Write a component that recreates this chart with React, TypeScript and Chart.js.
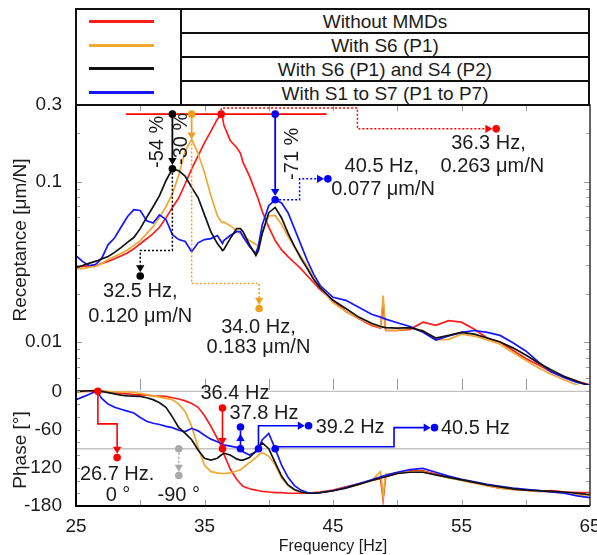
import { useEffect, useRef } from 'react';
import { Chart, registerables } from 'chart.js';

Chart.register(...registerables);

// ---- measurement data -------------------------------------------------------
const FREQ = [
  25, 25.5, 26, 26.5, 26.7, 27, 27.5, 28, 28.5, 29,
  29.5, 30, 30.5, 31, 31.5, 32, 32.5, 33, 33.5, 34,
  34.5, 35, 35.5, 36, 36.3, 36.4, 36.5, 37, 37.5, 37.8,
  38, 38.5, 39, 39.2, 39.5, 40, 40.5, 41, 41.5, 42,
  42.5, 43, 43.5, 44, 45, 46, 47, 48, 48.7, 48.9,
  49.1, 50, 51, 52, 53, 54, 55, 56, 57, 58,
  59, 60, 61, 62, 63, 64, 65,
];

// receptance [µm/N]
const REC_WITHOUT = [
  0.0292, 0.0296, 0.0298, 0.03, 0.0302, 0.0309, 0.0318, 0.033, 0.0344, 0.0359,
  0.0381, 0.041, 0.044, 0.0474, 0.0519, 0.0594, 0.0688, 0.0792, 0.0969, 0.1201,
  0.1446, 0.174, 0.206, 0.245, 0.263, 0.252, 0.226, 0.18, 0.163, 0.15,
  0.1315, 0.108, 0.085, 0.077, 0.065, 0.052, 0.0429, 0.0375, 0.0341, 0.0312,
  0.0287, 0.0259, 0.0234, 0.0212, 0.0182, 0.0155, 0.014, 0.0127, 0.0122, 0.0175,
  0.0118, 0.0118, 0.012, 0.0133, 0.0127, 0.0136, 0.0133, 0.012, 0.0106, 0.01,
  0.0089, 0.0079, 0.0072, 0.0065, 0.0061, 0.0057, 0.0054,
];
const REC_S6 = [
  0.0287, 0.0287, 0.0292, 0.0296, 0.03, 0.0309, 0.0327, 0.0341, 0.0356, 0.0375,
  0.04, 0.0429, 0.0474, 0.0524, 0.0598, 0.0697, 0.0838, 0.11, 0.1553, 0.183,
  0.15, 0.114, 0.0817, 0.0613, 0.0562, 0.0554, 0.056, 0.0531, 0.0495, 0.0474,
  0.0461, 0.0429, 0.0405, 0.0398, 0.048, 0.061, 0.0615, 0.054, 0.0455, 0.0394,
  0.0341, 0.0296, 0.0249, 0.0218, 0.0176, 0.0155, 0.0141, 0.0129, 0.0123, 0.0195,
  0.0118, 0.0118, 0.0122, 0.0118, 0.0103, 0.0104, 0.0112, 0.0109, 0.0103, 0.0097,
  0.0086, 0.0077, 0.0069, 0.0063, 0.0058, 0.0054, 0.0051,
];
const REC_S6_S4 = [
  0.0292, 0.03, 0.0309, 0.0318, 0.0322, 0.033, 0.0341, 0.0362, 0.0388, 0.0418,
  0.0448, 0.0509, 0.0598, 0.0697, 0.0817, 0.1012, 0.12, 0.1167, 0.108, 0.092,
  0.0795, 0.062, 0.0485, 0.0411, 0.0383, 0.0372, 0.0377, 0.0441, 0.0509, 0.0509,
  0.0487, 0.0405, 0.0346, 0.0372, 0.0477, 0.064, 0.069, 0.0593, 0.0477, 0.0394,
  0.0332, 0.0287, 0.0245, 0.0218, 0.0182, 0.0162, 0.0143, 0.0131, 0.0125, 0.0124,
  0.0123, 0.0122, 0.0123, 0.0117, 0.0106, 0.011, 0.0115, 0.0112, 0.0106, 0.01,
  0.0092, 0.0083, 0.0074, 0.0067, 0.0061, 0.0057, 0.0053,
];
const REC_S1_S7 = [
  0.0346, 0.0318, 0.03, 0.0304, 0.0314, 0.0332, 0.0405, 0.0445, 0.0519, 0.0604,
  0.0669, 0.066, 0.057, 0.0552, 0.062, 0.058, 0.0467, 0.0435, 0.0423, 0.0365,
  0.0415, 0.0435, 0.0441, 0.0461, 0.0423, 0.0411, 0.0429, 0.0461, 0.0487, 0.0487,
  0.0453, 0.0394, 0.0356, 0.04, 0.0538, 0.0708, 0.077, 0.0735, 0.064, 0.0509,
  0.0405, 0.0322, 0.0264, 0.0225, 0.019, 0.0182, 0.0165, 0.0149, 0.0143, 0.0141,
  0.0139, 0.0132, 0.0125, 0.0115, 0.0103, 0.0109, 0.0115, 0.0118, 0.0115, 0.011,
  0.0099, 0.0088, 0.0075, 0.0065, 0.006, 0.0056, 0.0054,
];

// phase [°]
const PH_WITHOUT = [
  0, 0, 0, 1, 0, 0, -1, -2, -3, -4,
  -5, -5.5, -6, -7, -7.5, -8, -10, -12, -15, -19,
  -25, -38, -55, -74, -85, -90, -98, -122, -138, -145,
  -149, -153, -155, -156, -157, -158, -159, -159, -160, -160,
  -160, -160, -159, -158, -155, -150, -145, -140, -137, -170,
  -134, -129, -125, -125, -130, -135, -139, -143, -148, -152,
  -154, -155, -157, -156, -158, -159, -159,
];
const PH_S6 = [
  -2, 0, 1, 2, 2, 1, 0, -1, -1, -1,
  -2, -3, -5, -7, -9, -11, -13, -20, -32, -55,
  -88, -116, -126, -128, -129, -129, -129, -128, -125, -123,
  -120, -112, -104, -100, -96, -102, -115, -136, -148, -155,
  -158, -160, -160, -159, -156, -151, -146, -140, -126, -166,
  -130, -128, -126, -126, -131, -136, -140, -144, -148, -152,
  -154, -155, -157, -158, -160, -162, -163,
];
const PH_S6_S4 = [
  0, 0.5, 1, 1, 1, 0, -2, -4, -6, -7,
  -7.5, -8, -10, -13, -18, -25, -40, -57, -66, -76,
  -92, -105, -108, -105, -100, -99, -97, -100, -106, -108,
  -108, -104, -94, -89, -81, -90, -112, -133, -147, -154,
  -158, -160, -160, -159, -156, -152, -146, -140, -136, -135,
  -134, -129, -127, -127, -131, -135, -139, -143, -147, -150,
  -153, -155, -156, -157, -158, -160, -162,
];
const PH_S1_S7 = [
  -13, -9, -5, 0, -2, -11, -20, -25, -28, -31,
  -34, -41, -47, -50, -52, -55, -57, -61, -63, -58,
  -62, -69, -75, -79, -82, -83, -84, -86, -88, -90,
  -95, -100, -95, -90, -76, -66, -90, -116, -135, -148,
  -155, -159, -160, -159, -156, -151, -145, -139, -134, -133,
  -132, -127, -123, -121, -127, -133, -138, -142, -146, -149,
  -152, -154, -156, -158, -160, -164, -167,
];

// axes
const X_RANGE = [25, 65];
const X_TICKS = [25, 35, 45, 55, 65];
const REC_RANGE = [0.0054, 0.3];
const REC_TICKS = [0.3, 0.1, 0.01];
const PH_RANGE = [-180, 10];
const PH_TICKS = [0, -60, -120, -180];
const PH_GUIDES = [0, -90];

// resonance peaks (frequency [Hz], receptance [µm/N])
const PEAK_WITHOUT = { f: 36.3, v: 0.263 };
const PEAK_S6 = { f: 34.0, v: 0.183 };
const PEAK_S6_S4 = { f: 32.5, v: 0.12 };
const PEAK_S1_S7 = { f: 40.5, v: 0.077 };

// characteristic phase points (frequency [Hz], phase [°])
const PH_ZERO_WITHOUT = { f: 26.7, p: 0 };
const PH_90_WITHOUT = { f: 36.4, p: -90 };
const PH_90_S1_S7 = [
  { f: 37.8, p: -90 },
  { f: 39.2, p: -90 },
  { f: 40.5, p: -90 },
];

// ---- styling ---------------------------------------------------------------
const FONT = '"Liberation Sans", Arial, Helvetica, sans-serif';
const INK = '#1c1c1c';
const RED = '#ff1c1c';
const ORANGE = '#f0a832';
const BLACK = '#121212';
const BLUE = '#1616ff';
const GRAY = '#a9a9a9';
const DOT_R = 3.8;

const SERIES = [
  { label: 'Without MMDs', color: RED, rec: REC_WITHOUT, ph: PH_WITHOUT, order: 3 },
  { label: 'With S6 (P1)', color: ORANGE, rec: REC_S6, ph: PH_S6, order: 2 },
  { label: 'With S6 (P1) and S4 (P2)', color: BLACK, rec: REC_S6_S4, ph: PH_S6_S4, order: 0 },
  { label: 'With S1 to S7 (P1 to P7)', color: BLUE, rec: REC_S1_S7, ph: PH_S1_S7, order: 1 },
];

type Pt = [number, number];

function dot(ctx: CanvasRenderingContext2D, p: Pt, color: string) {
  ctx.save();
  ctx.fillStyle = color;
  ctx.beginPath();
  ctx.arc(p[0], p[1], DOT_R, 0, Math.PI * 2);
  ctx.fill();
  ctx.restore();
}

function head(ctx: CanvasRenderingContext2D, x: number, y: number, ux: number, uy: number, color: string) {
  const L = 7;
  const W = 4.2;
  const bx = x - ux * L;
  const by = y - uy * L;
  ctx.save();
  ctx.fillStyle = color;
  ctx.beginPath();
  ctx.moveTo(x, y);
  ctx.lineTo(bx - uy * W, by + ux * W);
  ctx.lineTo(bx + uy * W, by - ux * W);
  ctx.closePath();
  ctx.fill();
  ctx.restore();
}

function leader(
  ctx: CanvasRenderingContext2D,
  pts: Pt[],
  color: string,
  o: { dash?: boolean; startDot?: boolean; endDot?: boolean; arrow?: boolean; width?: number }
) {
  const n = pts.length;
  const [ex, ey] = pts[n - 1];
  const [qx, qy] = pts[n - 2];
  const len = Math.hypot(ex - qx, ey - qy) || 1;
  const ux = (ex - qx) / len;
  const uy = (ey - qy) / len;
  const gap = o.endDot ? DOT_R : 0;
  const tx = ex - ux * gap;
  const ty = ey - uy * gap;
  const back = o.arrow ? 6 : 0;
  ctx.save();
  ctx.strokeStyle = color;
  ctx.lineWidth = o.width ?? (o.dash ? 1.5 : 1.8);
  ctx.setLineDash(o.dash ? [2, 2] : []);
  ctx.beginPath();
  ctx.moveTo(pts[0][0], pts[0][1]);
  for (let i = 1; i < n - 1; i++) ctx.lineTo(pts[i][0], pts[i][1]);
  ctx.lineTo(tx - ux * back, ty - uy * back);
  ctx.stroke();
  ctx.restore();
  if (o.arrow) head(ctx, tx, ty, ux, uy, color);
  if (o.startDot) dot(ctx, pts[0], color);
  if (o.endDot) dot(ctx, pts[n - 1], color);
}

function text(
  ctx: CanvasRenderingContext2D,
  s: string,
  x: number,
  y: number,
  o: { align?: CanvasTextAlign; rotate?: number; size?: number } = {}
) {
  ctx.save();
  ctx.font = `${o.size ?? 20}px ${FONT}`;
  ctx.fillStyle = INK;
  ctx.textAlign = o.align ?? 'center';
  ctx.textBaseline = 'middle';
  ctx.translate(x, y);
  if (o.rotate) ctx.rotate(o.rotate);
  ctx.fillText(s, 0, 0);
  ctx.restore();
}

const hz = (f: number) => `${f.toFixed(1)} Hz`;
const rec = (v: number) => `${v.toFixed(3)} μm/N`;
const pct = (v: number) => `${Math.round((v / PEAK_WITHOUT.v - 1) * 100)} %`;

const overlay = {
  id: 'overlay',
  beforeDatasetsDraw(chart: any) {
    const { ctx, chartArea: a, scales } = chart;
    ctx.save();
    ctx.strokeStyle = '#c3c3c3';
    ctx.lineWidth = 1.4;
    for (const g of PH_GUIDES) {
      const y = scales.p.getPixelForValue(g);
      ctx.beginPath();
      ctx.moveTo(a.left, y);
      ctx.lineTo(a.right, y);
      ctx.stroke();
    }
    ctx.restore();
  },
  afterDatasetsDraw(chart: any) {
    const { ctx, chartArea: a, scales } = chart;
    const xs = scales.x;
    const ym = scales.y;
    const yp = scales.p;
    const M = (f: number, v: number): Pt => [xs.getPixelForValue(f), ym.getPixelForValue(v)];
    const P = (f: number, p: number): Pt => [xs.getPixelForValue(f), yp.getPixelForValue(p)];

    // inward tick marks
    ctx.save();
    ctx.strokeStyle = '#9a9a9a';
    ctx.lineWidth = 1;
    const seg = (x1: number, y1: number, x2: number, y2: number) => {
      ctx.beginPath();
      ctx.moveTo(x1, y1);
      ctx.lineTo(x2, y2);
      ctx.stroke();
    };
    for (let f = X_RANGE[0] + 5; f < X_RANGE[1]; f += 5) {
      const x = Math.round(xs.getPixelForValue(f)) + 0.5;
      seg(x, a.top, x, a.top + 6);
      seg(x, ym.bottom - 6, x, ym.bottom + 5);
      seg(x, a.bottom - 6, x, a.bottom);
    }
    for (let e = -3; e <= -1; e++) {
      for (let k = 1; k <= 9; k++) {
        const v = k * Math.pow(10, e);
        if (v <= ym.min || v >= ym.max) continue;
        const y = Math.round(ym.getPixelForValue(v)) + 0.5;
        const L = k === 1 ? 6 : 4;
        seg(a.left, y, a.left + L, y);
        seg(a.right - L, y, a.right, y);
      }
    }
    for (let ph = -160; ph <= 0; ph += 20) {
      const y = Math.round(yp.getPixelForValue(ph)) + 0.5;
      seg(a.left, y, a.left + 4, y);
      seg(a.right - 4, y, a.right, y);
    }
    ctx.restore();

    // frame
    ctx.save();
    ctx.strokeStyle = '#000';
    ctx.lineWidth = 2;
    ctx.beginPath();
    ctx.moveTo(a.left, a.top);
    ctx.lineTo(a.left, a.bottom);
    ctx.lineTo(a.right, a.bottom);
    ctx.stroke();
    ctx.strokeStyle = '#333';
    ctx.lineWidth = 1.5;
    ctx.beginPath();
    ctx.moveTo(a.left, a.top);
    ctx.lineTo(a.right, a.top);
    ctx.lineTo(a.right, a.bottom);
    ctx.stroke();
    ctx.restore();

    // ---- receptance panel ----
    const ref = PEAK_WITHOUT.v;
    ctx.save();
    ctx.strokeStyle = '#ff0000';
    ctx.lineWidth = 1.8;
    const r0 = M(28.9, ref);
    const r1 = M(44.5, ref);
    ctx.beginPath();
    ctx.moveTo(r0[0], r0[1]);
    ctx.lineTo(r1[0], r1[1]);
    ctx.stroke();
    ctx.restore();

    // dotted call-outs from each peak
    leader(ctx, [M(PEAK_WITHOUT.f, ref), M(PEAK_WITHOUT.f, 0.287), M(46.9, 0.287), M(46.9, 0.213), M(57.7, 0.213)], '#ff0000', { dash: true, endDot: true, arrow: true });
    leader(ctx, [M(PEAK_S6_S4.f, PEAK_S6_S4.v), M(PEAK_S6_S4.f, 0.0372), M(30.0, 0.0372), M(30.0, 0.0258)], '#000', { dash: true, endDot: true, arrow: true });
    leader(ctx, [M(PEAK_S6.f, PEAK_S6.v), M(PEAK_S6.f, 0.0232), M(39.25, 0.0232), M(39.25, 0.0162)], '#f0a020', { dash: true, endDot: true, arrow: true });
    leader(ctx, [M(PEAK_S1_S7.f, PEAK_S1_S7.v), M(42.4, PEAK_S1_S7.v), M(42.4, 0.104), M(44.6, 0.104)], '#0000ff', { dash: true, endDot: true, arrow: true });

    // reductions relative to the untreated peak
    leader(ctx, [M(PEAK_S6_S4.f, ref), M(PEAK_S6_S4.f, PEAK_S6_S4.v)], '#000', { startDot: true, endDot: true, arrow: true });
    leader(ctx, [M(PEAK_S6.f, ref), M(PEAK_S6.f, PEAK_S6.v)], '#f0a020', { startDot: true, arrow: true });
    leader(ctx, [M(PEAK_S1_S7.f, ref), M(PEAK_S1_S7.f, PEAK_S1_S7.v)], '#0000ff', { startDot: true, endDot: true, arrow: true });
    dot(ctx, M(PEAK_WITHOUT.f, PEAK_WITHOUT.v), '#ff0000');

    const up = -Math.PI / 2;
    let t = M(31.38, 0.1767);
    text(ctx, pct(PEAK_S6_S4.v), t[0], t[1], { rotate: up });
    t = M(33.21, 0.1845);
    text(ctx, pct(PEAK_S6.v), t[0], t[1], { rotate: up });
    t = M(41.81, 0.149);
    text(ctx, pct(PEAK_S1_S7.v), t[0], t[1], { rotate: up });

    const twoLine = (pk: { f: number; v: number }, a1: Pt, a2: Pt) => {
      text(ctx, `${hz(pk.f)},`, a1[0], a1[1]);
      text(ctx, rec(pk.v), a2[0], a2[1]);
    };
    twoLine(PEAK_WITHOUT, M(57.1, 0.172), M(57.4, 0.1236));
    twoLine(PEAK_S1_S7, M(48.8, 0.1236), M(48.9, 0.0889));
    twoLine(PEAK_S6_S4, M(30.0, 0.0207), M(30.0, 0.0145));
    twoLine(PEAK_S6, M(39.2, 0.01236), M(39.2, 0.00929));

    // ---- phase panel ----
    const z = PH_ZERO_WITHOUT;
    leader(ctx, [P(z.f, z.p), P(z.f, -51), P(28.2, -51), P(28.2, -104)], '#ff0000', { startDot: true, endDot: true, arrow: true, width: 1.6 });
    let q = P(28.2, -131);
    text(ctx, `${hz(z.f)}.`, q[0], q[1]);
    q = P(28.27, -164);
    text(ctx, `${z.p} °`, q[0], q[1]);

    leader(ctx, [P(33.0, -90), P(33.0, -132)], GRAY, { dash: true, startDot: true, endDot: true, arrow: true });
    q = P(33.0, -163);
    text(ctx, `${PH_90_WITHOUT.p} °`, q[0], q[1]);

    const n = PH_90_WITHOUT;
    leader(ctx, [P(n.f, -26), P(n.f, n.p)], '#ff0000', { startDot: true, endDot: true, arrow: true, width: 1.6 });
    q = P(37.37, -4);
    text(ctx, hz(n.f), q[0], q[1]);

    const [b1, b2, b3] = PH_90_S1_S7;
    leader(ctx, [P(b1.f, b1.p), P(b1.f, -56)], '#0000ff', { startDot: true, endDot: true, width: 1.6 });
    const hb = P(b1.f, -67);
    head(ctx, hb[0], hb[1], 0, -1, '#0000ff');
    q = P(39.63, -34);
    text(ctx, hz(b1.f), q[0], q[1]);

    leader(ctx, [P(b2.f, b2.p), P(b2.f, -54), P(43.1, -54)], '#0000ff', { startDot: true, endDot: true, arrow: true, width: 1.6 });
    q = P(43.65, -56);
    text(ctx, hz(b2.f), q[0], q[1], { align: 'left' });

    leader(ctx, [P(b3.f, -87), P(49.75, -87), P(49.75, -57), P(52.9, -57)], '#0000ff', { endDot: true, arrow: true, width: 1.6 });
    dot(ctx, P(b3.f, b3.p), '#0000ff');
    q = P(53.4, -58);
    text(ctx, hz(b3.f), q[0], q[1], { align: 'left' });

    // axis titles
    text(ctx, 'Receptance [μm/N]', 21, 240, { rotate: up, size: 19 });
    text(ctx, 'Phase [°]', 21, 450, { rotate: up, size: 19 });
    text(ctx, 'Frequency [Hz]', (a.left + a.right) / 2, 547, { size: 16 });
  },
};

export default function App() {
  const ref = useRef<HTMLCanvasElement | null>(null);

  useEffect(() => {
    const canvas = ref.current;
    if (!canvas) return;
    const tickFont = { family: FONT, size: 19 };
    const datasets: any[] = [];
    for (const s of SERIES) {
      datasets.push({
        data: FREQ.map((f, i) => ({ x: f, y: s.rec[i] })),
        yAxisID: 'y',
        borderColor: s.color,
        borderWidth: 1.7,
        pointRadius: 0,
        tension: 0,
        order: s.order,
      });
      datasets.push({
        data: FREQ.map((f, i) => ({ x: f, y: s.ph[i] })),
        yAxisID: 'p',
        borderColor: s.color,
        borderWidth: 1.7,
        pointRadius: 0,
        tension: 0,
        order: s.order,
      });
    }
    const chart = new Chart(canvas, {
      type: 'line',
      data: { datasets },
      options: {
        animation: false,
        responsive: false,
        maintainAspectRatio: false,
        layout: { padding: { top: 105, right: 7, left: 0, bottom: 0 } },
        plugins: { legend: { display: false }, tooltip: { enabled: false } },
        scales: {
          x: {
            type: 'linear',
            min: X_RANGE[0],
            max: X_RANGE[1],
            grid: { display: false },
            border: { display: false },
            ticks: { font: tickFont, color: INK, padding: 1, maxRotation: 0, autoSkip: false, callback: (v: any) => String(v) },
            afterBuildTicks: (s: any) => { s.ticks = X_TICKS.map((value) => ({ value })); },
            afterFit: (s: any) => { s.height = 49; s.paddingLeft = 0; s.paddingRight = 0; },
          },
          p: {
            type: 'linear',
            position: 'left',
            stack: 'panels',
            stackWeight: 121,
            min: PH_RANGE[0],
            max: PH_RANGE[1],
            grid: { display: false },
            border: { display: false },
            ticks: { font: tickFont, color: INK, padding: 6, autoSkip: false, callback: (v: any) => String(v) },
            afterBuildTicks: (s: any) => { s.ticks = PH_TICKS.map((value) => ({ value })); },
            afterFit: (s: any) => { s.width = 76; s.paddingTop = 0; s.paddingBottom = 0; },
          },
          y: {
            type: 'logarithmic',
            position: 'left',
            stack: 'panels',
            stackWeight: 280,
            min: REC_RANGE[0],
            max: REC_RANGE[1],
            grid: { display: false },
            border: { display: false },
            ticks: { font: tickFont, color: INK, padding: 6, autoSkip: false, callback: (v: any) => String(v) },
            afterBuildTicks: (s: any) => { s.ticks = REC_TICKS.map((value) => ({ value })); },
            afterFit: (s: any) => { s.width = 76; s.paddingTop = 0; s.paddingBottom = 0; },
          },
        },
      } as any,
      plugins: [overlay],
    });
    return () => chart.destroy();
  }, []);

  const cellBorder = '2px solid #111';
  return (
    <div style={{ position: 'absolute', left: 0, top: 0, width: 597, height: 555, background: '#fff', overflow: 'hidden' }}>
      <canvas ref={ref} width={597} height={555} style={{ position: 'absolute', left: 0, top: 0 }} />
      <div
        style={{
          position: 'absolute', left: 75, top: 8, width: 515, height: 98, boxSizing: 'border-box',
          border: cellBorder, display: 'flex', background: '#fff', fontFamily: FONT, fontSize: 19, color: INK,
        }}
      >
        <div style={{ width: 103, borderRight: cellBorder, display: 'flex', flexDirection: 'column' }}>
          {SERIES.map((s) => (
            <div key={s.label} style={{ flex: 1, display: 'flex', alignItems: 'center' }}>
              <div style={{ marginLeft: 12, width: 65, height: 3, background: s.color }} />
            </div>
          ))}
        </div>
        <div style={{ flex: 1, display: 'flex', flexDirection: 'column' }}>
          {SERIES.map((s, i) => (
            <div
              key={s.label}
              style={{ flex: 1, display: 'flex', alignItems: 'center', justifyContent: 'center', borderTop: i ? cellBorder : 'none', lineHeight: 1 }}
            >
              {s.label}
            </div>
          ))}
        </div>
      </div>
    </div>
  );
}
